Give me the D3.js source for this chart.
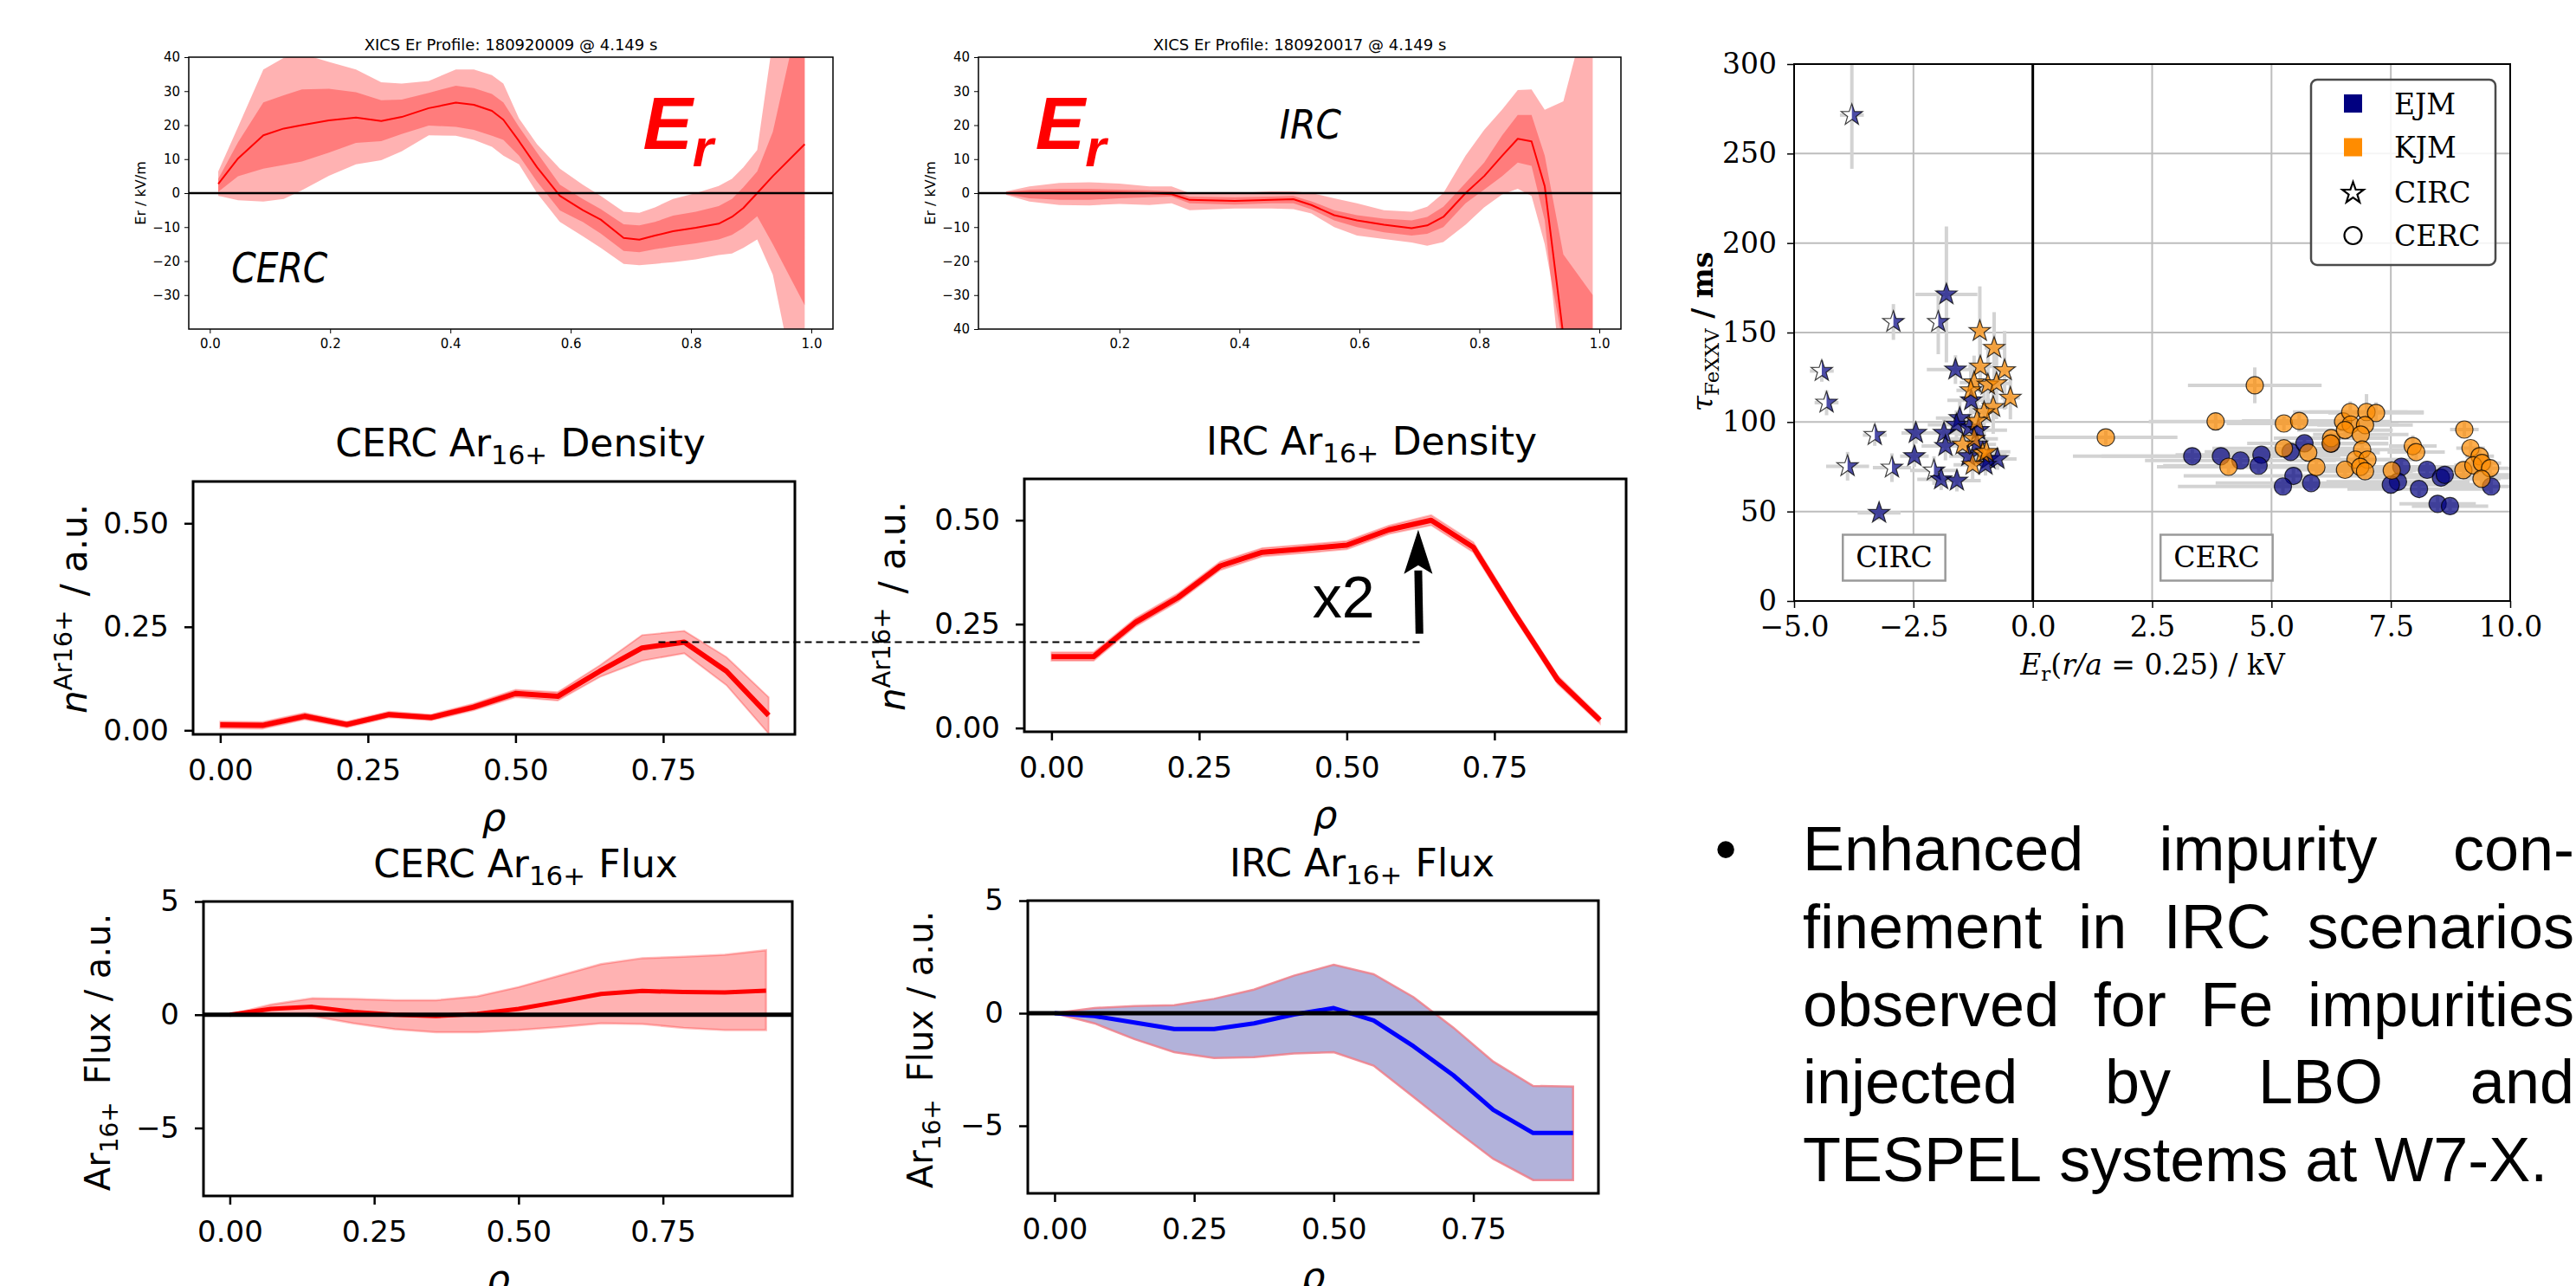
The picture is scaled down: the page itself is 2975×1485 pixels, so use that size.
<!DOCTYPE html>
<html>
<head>
<meta charset="utf-8">
<script src="https://cdn.jsdelivr.net/npm/d3@7"></script>
<style>
  body { margin: 0; background: #fff; }
  svg { display: block; }
</style>
</head>
<body>
<script>
// ---- Er profiles (XICS), rho grid + mean and two confidence bands ----
const erRhoC  = [0.014,0.047,0.089,0.123,0.153,0.198,0.243,0.285,0.319,0.364,0.409,0.439,0.469,0.488,0.514,0.544,0.582,0.620,0.650,0.688,0.714,0.740,0.770,0.808,0.846,0.868,0.887,0.910,0.936,0.989];
const erMeanC = [2.7,10.2,17,19,20,21.4,22.2,21.2,22.4,25,26.6,26,24.2,21.6,15.3,7.6,-0.8,-5,-7.8,-13.2,-13.7,-12.5,-11.2,-10.2,-9,-7,-4.4,0,5,14.4];
const erHi1C  = [4.2,15,26.7,28.8,30.5,30.7,29.7,27.3,27.5,29.5,31.6,30.9,29.2,26.7,19.5,11.9,2.5,-1.7,-4.7,-9.2,-9.5,-8.5,-6.6,-5.5,-3.8,-1.7,1.7,6.4,18,60];
const erLo1C  = [0.4,5,7.2,8.3,9.3,11.9,14.8,15.3,17.4,19.9,19.5,18.6,16.9,15.7,11,3.4,-5.1,-8.5,-11.9,-17,-17.4,-16.5,-15.7,-14.8,-13.6,-12.3,-10.2,-6.8,-15,-33];
const erHi2C  = [6.4,19.5,36.4,39.8,41,38.6,36.4,32.6,32.2,33,36.4,36.4,34.7,32.2,22,14.4,7.2,2.5,-0.8,-5.5,-5.8,-4.2,-1.7,0,2.1,4.2,7.6,12.7,45,80];
const erLo2C  = [-0.8,-2.1,-2.5,-1.7,0.8,5.1,8.5,9.7,12.3,17,16.9,15.7,13.6,11,8.5,0,-8.5,-12.7,-16.1,-20.8,-21.2,-20.8,-20.3,-19.5,-18.2,-17.8,-16.1,-13.6,-24,-70];

const erRhoI  = [0.011,0.05,0.10,0.15,0.20,0.25,0.287,0.317,0.392,0.453,0.49,0.52,0.558,0.596,0.641,0.687,0.713,0.74,0.777,0.808,0.838,0.864,0.887,0.909,0.94,0.989];
const erMeanI = [0,0.1,0.2,0.2,0.1,0,-0.3,-2,-2.3,-2,-1.8,-3.5,-6.5,-8,-9.3,-10.3,-9.5,-7,0,5,11,16,15.2,2,-42,-80];
const erHi1I  = [0.3,1,1.2,1.2,1,0.8,0.5,-1,-1.2,-1,-0.8,-2.4,-5,-6.5,-7.5,-8,-7,-4,3,9,17,23,23,11,-18,-30];
const erLo1I  = [-0.3,-1.5,-2,-2,-1.5,-1.2,-1,-3,-3.4,-3,-3,-4.8,-8,-10,-11.5,-12.5,-12,-10,-3,1,5,9,8,-8,-60,-70];
const erHi2I  = [0.5,2,3,3.2,2.8,2,2,0,0,0.5,0.5,0,-1.5,-3,-5,-5.5,-4,0,11,18.6,24.6,30.3,30.5,24.5,27,60];
const erLo2I  = [-0.5,-2.5,-3.5,-3.6,-3.2,-3.5,-3,-5,-4.5,-4.5,-4.7,-6,-10,-12.5,-13.5,-14.5,-15.5,-14.4,-9.3,-4.2,-0.4,1.3,-0.8,-15,-45,-60];

const erYTicks = [-30,-20,-10,0,10,20,30,40];

// ---- Ar16+ density and flux profiles ----
const rho = [0,0.0714,0.1429,0.2143,0.2857,0.3571,0.4286,0.5,0.5714,0.6429,0.7143,0.7857,0.8571,0.9286];
const densCERC    = [0.013,0.012,0.034,0.014,0.038,0.031,0.056,0.089,0.082,0.143,0.199,0.213,0.143,0.036];
const densCERCerr = [0.008,0.008,0.008,0.007,0.007,0.007,0.008,0.009,0.010,0.014,0.031,0.027,0.034,0.044];
const densIRC     = [0.172,0.172,0.255,0.314,0.390,0.423,0.431,0.440,0.477,0.500,0.435,0.272,0.116,0.019];
const densIRCerr  = [0.010,0.010,0.010,0.010,0.010,0.010,0.010,0.010,0.010,0.012,0.012,0.010,0.010,0.008];

const fluxCERC   = [0,0.26,0.35,0.13,0,-0.06,0.04,0.26,0.58,0.92,1.05,1.0,0.99,1.06];
const fluxCERChi = [0,0.45,0.73,0.70,0.64,0.64,0.81,1.22,1.73,2.24,2.5,2.56,2.65,2.85];
const fluxCERClo = [0,0.06,-0.06,-0.38,-0.64,-0.77,-0.77,-0.68,-0.54,-0.38,-0.41,-0.58,-0.68,-0.68];
const fluxIRC    = [0,-0.13,-0.41,-0.70,-0.70,-0.45,-0.06,0.23,-0.32,-1.47,-2.76,-4.29,-5.32,-5.32];
const fluxIRChi  = [0,0.23,0.32,0.36,0.64,1.05,1.67,2.15,1.73,0.71,-0.64,-2.15,-3.23,-3.26];
const fluxIRClo  = [0,-0.45,-1.15,-1.73,-1.99,-1.95,-1.79,-1.73,-2.33,-3.72,-5.13,-6.47,-7.41,-7.41];

const profXTicks = [0,0.25,0.5,0.75];

// ---- tau_FeXXV scatter: [Er, tau, xerr, yerr, halfFilled] ----
const ejmStars = [
  [-3.79,271.5,0.25,30,1],[-2.92,155.9,0.10,10,1],[-1.98,155.9,0.10,18,1],[-1.81,171.3,0.65,38,0],
  [-4.42,128.5,0.25,6,1],[-4.32,110.8,0.25,7,1],[-3.31,92.7,0.25,6,1],[-3.88,75.3,0.45,8,1],
  [-2.95,74.5,0.40,8,1],[-2.07,72.9,0.50,8,1],[-1.62,129.3,0.60,8,0],[-1.29,112.1,0.50,10,0],
  [-1.53,102.2,0.50,10,0],[-1.60,98.5,0.60,8,0],[-1.33,96.8,0.40,8,0],[-1.14,95.5,0.60,8,0],
  [-1.86,93.9,0.50,8,0],[-1.83,86.6,0.50,8,0],[-2.45,93.9,0.30,6,0],[-2.48,80.9,0.30,6,0],
  [-1.92,68.0,0.50,6,0],[-1.59,67.2,0.50,6,0],[-0.93,79.3,0.40,6,0],[-0.74,79.3,0.40,6,0],
  [-0.99,76.1,0.40,6,0],[-1.35,80.9,0.40,6,0],[-1.17,87.4,0.40,6,0],[-3.22,49.2,0.45,4,0]
];
const kjmStars = [
  [-1.11,150.8,0.15,25],[-0.81,141.4,0.20,20],[-1.10,131.0,0.25,15],[-0.59,128.9,0.15,22],
  [-1.23,122.1,0.30,15],[-0.94,120.9,0.30,20],[-0.76,121.6,0.30,20],[-1.30,117.7,0.30,15],
  [-0.47,113.5,0.20,12],[-0.83,108.4,0.30,15],[-1.02,105.5,0.30,15],[-1.17,100.6,0.30,12],
  [-1.23,90.6,0.50,10],[-1.47,87.4,0.40,8],[-1.05,82.6,0.50,8],[-0.97,83.3,0.50,8],[-1.26,76.1,0.40,8]
];
const ejmCircles = [
  [3.34,80.9,2.5,4],[3.94,80.9,2.5,4],[4.35,78.5,2.0,4],[4.79,81.7,1.8,4],[4.73,75.6,2.0,4],
  [5.40,83.3,1.8,4],[5.69,88.1,1.2,4],[5.46,69.9,2.3,4],[5.24,64.0,2.2,4],[5.83,65.9,2.0,4],
  [6.25,87.9,1.2,4],[7.72,75.0,1.5,4],[7.65,66.6,1.5,4],[7.50,65.0,1.8,4],[8.09,62.6,1.5,4],
  [8.26,73.3,1.2,4],[8.55,68.9,1.5,4],[8.63,70.5,1.5,4],[8.48,54.3,0.8,4],[8.74,53.0,0.8,4],[9.60,64.0,1.0,4]
];
const kjmCircles = [
  [1.53,91.4,1.5,4],[3.83,100.3,1.4,5],[4.65,120.5,1.4,10],[4.10,75.0,1.5,4],[5.26,99.2,1.2,4],
  [5.58,100.6,1.2,5],[5.26,85.3,1.5,4],[5.77,82.9,1.5,4],[5.94,74.8,1.5,4],[6.25,91.0,1.2,4],
  [6.24,88.0,1.2,4],[6.50,100.3,1.0,4],[6.65,105.6,1.2,6],[6.66,98.6,1.0,4],[6.54,95.5,1.0,4],
  [6.99,105.6,1.2,10],[7.19,105.1,1.0,6],[6.96,98.3,1.0,4],[6.87,93.0,1.0,4],[6.90,84.6,1.0,4],
  [6.76,79.0,1.0,4],[7.01,79.0,1.0,4],[6.54,73.3,1.0,4],[6.86,74.9,1.0,4],[6.96,72.5,1.0,4],
  [7.52,72.9,0.5,4],[7.96,86.6,0.5,6],[8.03,83.2,0.6,4],[9.04,95.8,0.3,4],[9.17,85.4,0.3,4],
  [9.36,80.9,0.3,4],[9.02,73.1,0.4,4],[9.23,75.8,0.4,4],[9.41,77.1,0.4,4],[9.58,74.2,0.4,4],[9.40,68.3,0.4,4]
];
const scatXTicks = [-5,-2.5,0,2.5,5,7.5,10];
const scatYTicks = [0,50,100,150,200,250,300];
const legendItems = ["EJM","KJM","CIRC","CERC"];

const bulletLines = [
  "Enhanced impurity con-",
  "finement in IRC scenarios",
  "observed for Fe impurities",
  "injected by LBO and",
  "TESPEL systems at W7-X."
];

// ------------------------------------------------------------------
const W = 2975, H = 1485;
const svg = d3.select("body").append("svg").attr("width", W).attr("height", H);
svg.append("rect").attr("width", W).attr("height", H).attr("fill", "#fff");
const defs = svg.append("defs");
let clipCount = 0;

function makePanel(box, xDom, yDom) {
  const x = d3.scaleLinear().domain(xDom).range([box.left, box.right]);
  const y = d3.scaleLinear().domain(yDom).range([box.bottom, box.top]);
  const id = "clip" + (clipCount++);
  defs.append("clipPath").attr("id", id).append("rect")
    .attr("x", box.left).attr("y", box.top)
    .attr("width", box.right - box.left).attr("height", box.bottom - box.top);
  const plot = svg.append("g").attr("clip-path", `url(#${id})`);
  return { box, x, y, plot };
}

function band(p, xs, lo, hi, fill, stroke, sw) {
  const area = d3.area()
    .x((d, i) => p.x(xs[i]))
    .y0((d, i) => p.y(lo[i]))
    .y1((d, i) => p.y(hi[i]));
  p.plot.append("path").datum(xs).attr("d", area)
    .attr("fill", fill).attr("stroke", stroke || "none").attr("stroke-width", sw || 0);
}

function curve(p, xs, vals, color, w) {
  const line = d3.line().x((d, i) => p.x(xs[i])).y(d => p.y(d));
  p.plot.append("path").datum(vals).attr("d", line)
    .attr("fill", "none").attr("stroke", color).attr("stroke-width", w)
    .attr("stroke-linejoin", "round");
}

function zeroLine(p, w) {
  p.plot.append("line")
    .attr("x1", p.box.left).attr("x2", p.box.right)
    .attr("y1", p.y(0)).attr("y2", p.y(0))
    .attr("stroke", "#000").attr("stroke-width", w);
}

function axes(p, o) {
  const b = p.box;
  const gx = svg.append("g").attr("transform", `translate(0,${b.bottom})`)
    .call(d3.axisBottom(p.x).tickValues(o.xt).tickFormat(o.xf).tickSize(o.ts).tickPadding(o.xpad));
  const gy = svg.append("g").attr("transform", `translate(${b.left},0)`)
    .call(d3.axisLeft(p.y).tickValues(o.yt).tickFormat(o.yf).tickSize(o.ts).tickPadding(o.ypad));
  [gx, gy].forEach(a => {
    a.attr("font-size", o.fs).attr("font-family", o.font || "DejaVu Sans");
    a.select(".domain").remove();
    a.selectAll(".tick line").attr("stroke", "#000").attr("stroke-width", o.tw);
    a.selectAll(".tick text").attr("fill", "#000");
  });
  svg.append("rect")
    .attr("x", b.left).attr("y", b.top)
    .attr("width", b.right - b.left).attr("height", b.bottom - b.top)
    .attr("fill", "none").attr("stroke", "#000").attr("stroke-width", o.fw);
}

// ================= Er panels =================
const LIGHT = "rgba(255,0,0,0.3)";

function erPanel(box, xs, mean, lo1, hi1, lo2, hi2, xticks, yticks, title) {
  const p = makePanel(box, [-0.035, 1.036], [-40, 40]);
  band(p, xs, lo2, hi2, LIGHT);
  band(p, xs, lo1, hi1, LIGHT);
  curve(p, xs, mean, "#ff0000", 2);
  zeroLine(p, 2.7);
  axes(p, {
    xt: xticks, xf: d3.format(".1f"), yt: yticks,
    yf: d => d === -40 ? "40" : d3.format("d")(d),
    ts: 5, xpad: 6, ypad: 5, fs: 15, tw: 1, fw: 1.5
  });
  svg.append("text")
    .attr("x", (box.left + box.right) / 2).attr("y", 58)
    .attr("text-anchor", "middle").attr("font-family", "DejaVu Sans").attr("font-size", 18)
    .text(title);
  return p;
}

const erC = erPanel({ left: 218, right: 962, top: 66, bottom: 380 },
  erRhoC, erMeanC, erLo1C, erHi1C, erLo2C, erHi2C,
  [0, 0.2, 0.4, 0.6, 0.8, 1.0], erYTicks, "XICS Er Profile: 180920009 @ 4.149 s");
const erI = erPanel({ left: 1130, right: 1872, top: 66, bottom: 380 },
  erRhoI, erMeanI, erLo1I, erHi1I, erLo2I, erHi2I,
  [0.2, 0.4, 0.6, 0.8, 1.0], [-40].concat(erYTicks), "XICS Er Profile: 180920017 @ 4.149 s");

[[168, erC], [1080, erI]].forEach(([bx, p]) => {
  svg.append("text")
    .attr("transform", `translate(${bx},${p.y(0)}) rotate(-90)`)
    .attr("text-anchor", "middle").attr("font-family", "DejaVu Sans").attr("font-size", 16)
    .text("Er / kV/m");
});

function bigEr(x, y) {
  const t = svg.append("text").attr("x", x).attr("y", y)
    .attr("font-family", "Liberation Sans, Arial, sans-serif")
    .attr("font-weight", "bold").attr("font-style", "italic").attr("fill", "#ff0000")
    .attr("font-size", 86);
  t.append("tspan").text("E");
  t.append("tspan").attr("font-size", 62).attr("dy", 20).text("r");
}
bigEr(erC.x(0.72), erC.y(12.9));
bigEr(erI.x(0.06), erI.y(12.9));

svg.append("text").attr("x", erC.x(0.036)).attr("y", erC.y(-26.3))
  .attr("font-family", "DejaVu Sans").attr("font-style", "italic").attr("font-size", 48)
  .attr("textLength", 111).attr("lengthAdjust", "spacingAndGlyphs").text("CERC");
svg.append("text").attr("x", erI.x(0.467)).attr("y", erI.y(16.1))
  .attr("font-family", "DejaVu Sans").attr("font-style", "italic").attr("font-size", 46)
  .attr("textLength", 71).attr("lengthAdjust", "spacingAndGlyphs").text("IRC");

// ================= density / flux panels =================
function subTitle(cx, y, pre, sub, post) {
  const fs = 44;
  const t = svg.append("text").attr("x", cx).attr("y", y)
    .attr("text-anchor", "middle").attr("font-family", "DejaVu Sans").attr("font-size", fs);
  t.append("tspan").text(pre);
  t.append("tspan").attr("font-size", fs * 0.7).attr("dy", fs * 0.2).text(sub);
  t.append("tspan").attr("dy", -fs * 0.2).attr("dx", fs * 0.35).text(post);
}

function rhoLabel(p, y) {
  svg.append("text").attr("x", (p.box.left + p.box.right) / 2).attr("y", y)
    .attr("text-anchor", "middle").attr("font-family", "DejaVu Sans")
    .attr("font-style", "italic").attr("font-size", 44).text("ρ");
}

const lowerAxis = {
  xt: profXTicks, xf: d3.format(".2f"), ts: 10, xpad: 19, ypad: 18, fs: 34, tw: 2.5, fw: 3
};

function densPanel(box, yDom, vals, errs) {
  const p = makePanel(box, [-0.046, 0.973], yDom);
  const lo = vals.map((v, i) => v - errs[i]);
  const hi = vals.map((v, i) => v + errs[i]);
  band(p, rho, lo, hi, "rgba(255,0,0,0.3)", "rgba(255,0,0,0.25)", 2);
  curve(p, rho, vals, "#ff0000", 6);
  axes(p, Object.assign({}, lowerAxis, { yt: [0, 0.25, 0.5], yf: d3.format(".2f") }));
  rhoLabel(p, box.bottom + 111);
  return p;
}

function densYLabel(bx, cy) {
  const t = svg.append("text").attr("transform", `translate(${bx},${cy}) rotate(-90)`)
    .attr("text-anchor", "middle").attr("font-family", "DejaVu Sans").attr("font-size", 42);
  t.append("tspan").attr("font-style", "italic").text("n");
  t.append("tspan").attr("font-size", 29).attr("dy", -17).text("Ar16+");
  t.append("tspan").attr("dy", 17).attr("dx", 16).text("/ a.u.");
}

const dC = densPanel({ left: 223, right: 918, top: 556, bottom: 848 }, [-0.0098, 0.601], densCERC, densCERCerr);
const dI = densPanel({ left: 1183, right: 1878, top: 553, bottom: 845 }, [-0.009, 0.5994], densIRC, densIRCerr);
subTitle(601, 527, "CERC Ar", "16+", "Density");
subTitle(1584, 525, "IRC Ar", "16+", "Density");
densYLabel(100, 703);
densYLabel(1045, 700);

// dashed reference line: CERC peak carried into the IRC panel
const peakY = dC.y(d3.max(densCERC));
svg.append("line")
  .attr("x1", dC.x(0.742)).attr("x2", dI.x(0.625))
  .attr("y1", peakY).attr("y2", peakY)
  .attr("stroke", "#000").attr("stroke-width", 2).attr("stroke-dasharray", "8,5");

// x2 arrow
{
  const bx = dI.x(0.623), by = dI.y(0.227);
  const tx = dI.x(0.621), ty = dI.y(0.477);
  const headL = 51, headW = 33;
  svg.append("line").attr("x1", bx).attr("y1", by).attr("x2", tx).attr("y2", ty + headL - 4)
    .attr("stroke", "#000").attr("stroke-width", 9);
  svg.append("path")
    .attr("d", `M${tx},${ty} L${tx - headW / 2},${ty + headL} L${tx},${ty + headL - 10} L${tx + headW / 2},${ty + headL} Z`)
    .attr("fill", "#000");
  svg.append("text").attr("x", dI.x(0.442)).attr("y", dI.y(0.266))
    .attr("font-family", "Liberation Sans, Arial, sans-serif").attr("font-size", 68).text("x2");
}

function fluxPanel(box, xDom, mean, lo, hi, fill, edge, lineColor) {
  const p = makePanel(box, xDom, [-8, 5]);
  band(p, rho, lo, hi, fill, edge, 2.5);
  curve(p, rho, mean, lineColor, 5);
  zeroLine(p, 5);
  axes(p, Object.assign({}, lowerAxis, { yt: [-5, 0, 5], yf: d3.format("d") }));
  rhoLabel(p, box.bottom + 111);
  return p;
}

function fluxYLabel(bx, cy) {
  const t = svg.append("text").attr("transform", `translate(${bx},${cy}) rotate(-90)`)
    .attr("text-anchor", "middle").attr("font-family", "DejaVu Sans").attr("font-size", 40);
  t.append("tspan").text("Ar");
  t.append("tspan").attr("font-size", 28).attr("dy", 9).text("16+");
  t.append("tspan").attr("dy", -9).attr("dx", 20).text("Flux / a.u.");
}

const fC = fluxPanel({ left: 235, right: 915, top: 1041, bottom: 1381 }, [-0.0456, 0.974],
  fluxCERC, fluxCERClo, fluxCERChi, "rgba(255,0,0,0.3)", "rgba(255,0,0,0.25)", "#ff0000");
const fI = fluxPanel({ left: 1187, right: 1846, top: 1040, bottom: 1378 }, [-0.048, 0.974],
  fluxIRC, fluxIRClo, fluxIRChi, "rgba(72,72,168,0.42)", "rgba(240,120,130,0.8)", "#0000ff");
subTitle(607, 1013, "CERC Ar", "16+", "Flux");
subTitle(1573, 1012, "IRC Ar", "16+", "Flux");
fluxYLabel(127, 1215);
fluxYLabel(1077, 1212);

// ================= tau_FeXXV scatter =================
const sc = makePanel({ left: 2072, right: 2899, top: 74, bottom: 694 }, [-5, 10], [0, 300]);
const SERIF = "DejaVu Serif, serif";

scatXTicks.forEach(v => sc.plot.append("line")
  .attr("x1", sc.x(v)).attr("x2", sc.x(v)).attr("y1", sc.box.top).attr("y2", sc.box.bottom)
  .attr("stroke", "#bdbdbd").attr("stroke-width", 2));
scatYTicks.forEach(v => sc.plot.append("line")
  .attr("x1", sc.box.left).attr("x2", sc.box.right).attr("y1", sc.y(v)).attr("y2", sc.y(v))
  .attr("stroke", "#bdbdbd").attr("stroke-width", 2));

sc.plot.append("line")
  .attr("x1", sc.x(0)).attr("x2", sc.x(0)).attr("y1", sc.box.top).attr("y2", sc.box.bottom)
  .attr("stroke", "#000").attr("stroke-width", 3);

const allPts = ejmStars.concat(kjmStars, ejmCircles, kjmCircles);
const errG = sc.plot.append("g").attr("stroke", "#d3d3d3").attr("stroke-width", 4);
errG.selectAll(null).data(allPts).join("line")
  .attr("x1", d => sc.x(d[0] - d[2])).attr("x2", d => sc.x(d[0] + d[2]))
  .attr("y1", d => sc.y(d[1])).attr("y2", d => sc.y(d[1]));
errG.selectAll(null).data(allPts).join("line")
  .attr("x1", d => sc.x(d[0])).attr("x2", d => sc.x(d[0]))
  .attr("y1", d => sc.y(d[1] - d[3])).attr("y2", d => sc.y(d[1] + d[3]));

function starPts(cx, cy, R, r) {
  const pts = [];
  for (let i = 0; i < 10; i++) {
    const a = -Math.PI / 2 + i * Math.PI / 5;
    const rad = i % 2 ? r : R;
    pts.push([cx + rad * Math.cos(a), cy + rad * Math.sin(a)]);
  }
  return pts;
}
const poly = pts => "M" + pts.map(p => p.join(",")).join("L") + "Z";
const NAVY = "#000080", ORANGE = "#ff8c00";

function drawCircles(data, color) {
  sc.plot.append("g").selectAll(null).data(data).join("circle")
    .attr("cx", d => sc.x(d[0])).attr("cy", d => sc.y(d[1])).attr("r", 10)
    .attr("fill", color).attr("fill-opacity", 0.7)
    .attr("stroke", "#000").attr("stroke-opacity", 0.75).attr("stroke-width", 1.2);
}

function drawStars(data, color) {
  const g = sc.plot.append("g");
  data.forEach(d => {
    const cx = sc.x(d[0]), cy = sc.y(d[1]);
    const pts = starPts(cx, cy, 13, 5.2);
    if (d[4]) {
      g.append("path").attr("d", poly(pts)).attr("fill", "#fff");
      g.append("path").attr("d", poly(pts.slice(0, 6))).attr("fill", color).attr("fill-opacity", 0.7);
      g.append("path").attr("d", poly(pts)).attr("fill", "none")
        .attr("stroke", "#000").attr("stroke-opacity", 0.75).attr("stroke-width", 1.2);
    } else {
      g.append("path").attr("d", poly(pts)).attr("fill", color).attr("fill-opacity", 0.7)
        .attr("stroke", "#000").attr("stroke-opacity", 0.75).attr("stroke-width", 1.2);
    }
  });
}
drawCircles(ejmCircles, NAVY);
drawCircles(kjmCircles, ORANGE);
drawStars(ejmStars, NAVY);
drawStars(kjmStars, ORANGE);

axes(sc, {
  xt: scatXTicks, xf: d3.format(".1f"), yt: scatYTicks, yf: d3.format("d"),
  ts: 8, xpad: 10, ypad: 12, fs: 33, tw: 1.5, fw: 2, font: SERIF
});

// regime boxes
[["CIRC", -2.906], ["CERC", 3.85]].forEach(([lab, xv]) => {
  const t = svg.append("text").attr("x", sc.x(xv)).attr("y", sc.y(24.2))
    .attr("text-anchor", "middle").attr("dominant-baseline", "central")
    .attr("font-family", SERIF).attr("font-size", 33).text(lab);
  const bb = t.node().getBBox();
  svg.insert("rect", () => t.node())
    .attr("x", bb.x - 15).attr("y", bb.y - 7).attr("width", bb.width + 30).attr("height", bb.height + 14)
    .attr("fill", "#fff").attr("stroke", "#9a9a9a").attr("stroke-width", 2.5);
});

// legend
{
  const lg = svg.append("g");
  lg.append("rect").attr("x", 2669).attr("y", 92).attr("width", 213).attr("height", 214)
    .attr("rx", 7).attr("fill", "#fff").attr("fill-opacity", 0.85)
    .attr("stroke", "#4a4a4a").attr("stroke-width", 2.5);
  const mx = 2717.5, ys = [119.5, 170, 222, 272];
  lg.append("rect").attr("x", mx - 10.5).attr("y", ys[0] - 10.5).attr("width", 21).attr("height", 21).attr("fill", NAVY);
  lg.append("rect").attr("x", mx - 10.5).attr("y", ys[1] - 10.5).attr("width", 21).attr("height", 21).attr("fill", ORANGE);
  lg.append("path").attr("d", poly(starPts(mx, ys[2] + 1, 13, 5.2)))
    .attr("fill", "#fff").attr("stroke", "#000").attr("stroke-width", 2.2);
  lg.append("circle").attr("cx", mx).attr("cy", ys[3]).attr("r", 10)
    .attr("fill", "#fff").attr("stroke", "#000").attr("stroke-width", 2.2);
  legendItems.forEach((s, i) => lg.append("text").attr("x", 2765).attr("y", ys[i] + 12)
    .attr("font-family", SERIF).attr("font-size", 33).text(s));
}

// axis labels
{
  const t = svg.append("text").attr("x", 2486).attr("y", 779).attr("text-anchor", "middle")
    .attr("font-family", SERIF).attr("font-size", 33);
  t.append("tspan").attr("font-style", "italic").text("E");
  t.append("tspan").attr("font-size", 23).attr("dy", 7).text("r");
  t.append("tspan").attr("dy", -7).text("(");
  t.append("tspan").attr("font-style", "italic").text("r/a");
  t.append("tspan").text(" = 0.25) / kV");

  const u = svg.append("text").attr("transform", "translate(1978,383) rotate(-90)")
    .attr("text-anchor", "middle").attr("font-family", SERIF).attr("font-size", 33);
  u.append("tspan").attr("font-style", "italic").text("τ");
  u.append("tspan").attr("font-size", 23).attr("dy", 7).text("FeXXV");
  u.append("tspan").attr("dy", -7).attr("font-weight", "bold").text(" / ms");
}

// ================= bullet text (justified) =================
{
  const left = 2082, right = 2973, base = 1005, lh = 89.75;
  const font = "Liberation Sans, Arial, sans-serif";
  svg.append("text").attr("x", 1993).attr("y", base).attr("text-anchor", "middle")
    .attr("font-family", font).attr("font-size", 72).text("•");
  bulletLines.forEach((line, li) => {
    const words = line.split(" ");
    const t = svg.append("text").attr("y", base + li * lh)
      .attr("font-family", font).attr("font-size", 72);
    const spans = words.map(w => t.append("tspan").text(w));
    const widths = spans.map(s => s.node().getComputedTextLength());
    const total = d3.sum(widths);
    const last = li === bulletLines.length - 1;
    const gap = last ? 72 * 0.278 : (right - left - total) / (words.length - 1);
    let xx = left;
    spans.forEach((s, i) => { s.attr("x", xx); xx += widths[i] + gap; });
  });
}
</script>
</body>
</html>
